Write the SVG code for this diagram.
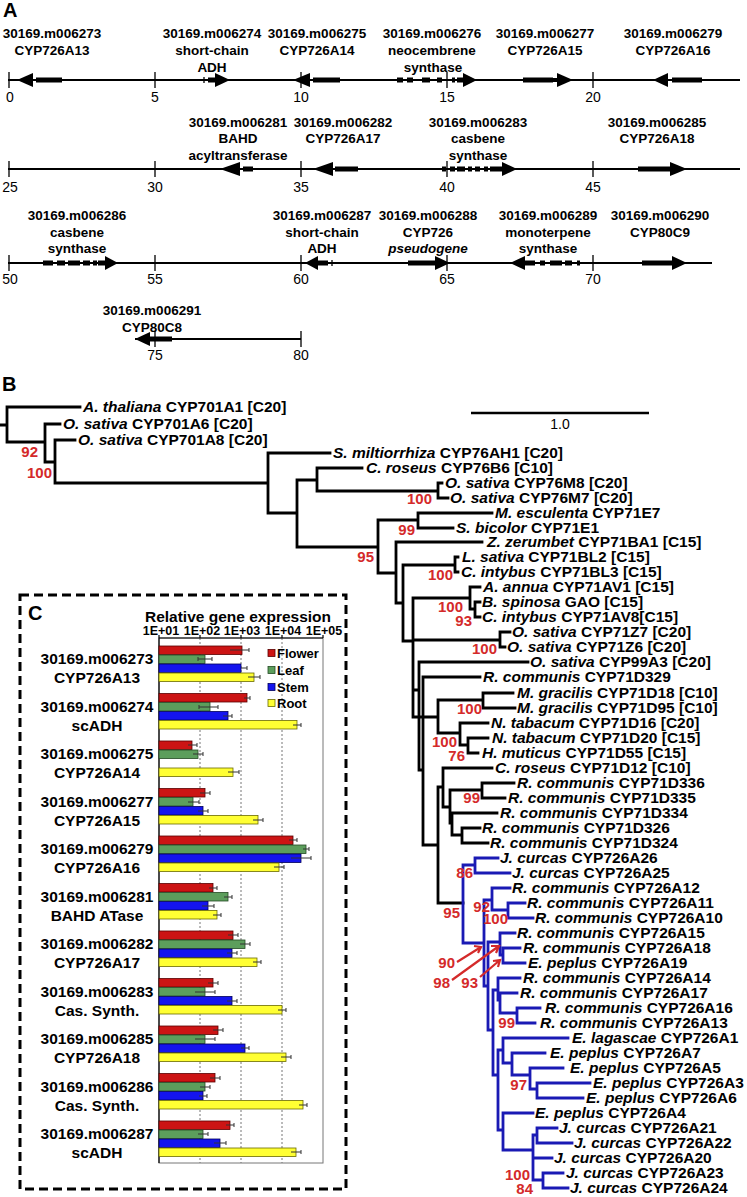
<svg xmlns="http://www.w3.org/2000/svg" width="747" height="1197" viewBox="0 0 747 1197">
<style>
text{font-family:"Liberation Sans",Arial,sans-serif;fill:#000}
.pl{font-size:20px;font-weight:bold}
.gl{font-size:13.5px;font-weight:bold;text-anchor:middle}
.tk{font-size:14px;text-anchor:middle}
.lf{font-size:15.5px;font-weight:bold}
.i{font-style:italic}
.bs{font-size:15px;font-weight:bold;fill:#d42a2a;text-anchor:end}
.cg{font-size:15.5px;font-weight:bold;text-anchor:middle}
.ax{font-size:12.5px;font-weight:bold;text-anchor:middle}
.lg{font-size:13px;font-weight:bold}
.ln{stroke:#000;stroke-width:2;fill:none}
.tc{stroke:#000;stroke-width:1.3}
.ar{fill:#000}
.tree{fill:none;stroke:#000;stroke-width:2.8;stroke-linecap:square}
.blue{fill:none;stroke:#1a1ab4;stroke-width:2.8;stroke-linecap:square}
.ra{fill:none;stroke:#d42a2a;stroke-width:2.2}
.fl{fill:#cc1414;stroke:#5a0000;stroke-width:0.8}
.le{fill:#5c9e5c;stroke:#244a24;stroke-width:0.8}
.st{fill:#1414ee;stroke:#00005a;stroke-width:0.8}
.ro{fill:#ffff33;stroke:#6a6a00;stroke-width:0.8}
.eb{stroke:#333;stroke-width:1;fill:none}
</style>

<!-- Panel A -->
<g id="panelA">
<text class="pl" x="3" y="17">A</text>
<g id="row1">
<path class="ln" d="M8 80H740"/>
<path class="tc" d="M9 72V88M155 72V88M301 72V88M447 72V88M593 72V88"/>
<text class="tk" x="10" y="102">0</text><text class="tk" x="155" y="102">5</text><text class="tk" x="301" y="102">10</text><text class="tk" x="447" y="102">15</text><text class="tk" x="593" y="102">20</text>
</g>
<g id="g273"><text class="gl" x="52" y="38">30169.m006273</text><text class="gl" x="52" y="55">CYP726A13</text>
<polygon class="ar" points="33,73 17,80 33,87"/><rect x="36" y="77.5" width="26" height="5"/></g>
<g id="g274"><text class="gl" x="212" y="38">30169.m006274</text><text class="gl" x="212" y="55">short-chain</text><text class="gl" x="212" y="72">ADH</text>
<path class="tc" d="M204 77V83"/><rect x="208" y="77.5" width="9" height="5"/><polygon class="ar" points="215,73 230,80 215,87"/></g>
<g id="g275"><text class="gl" x="317" y="38">30169.m006275</text><text class="gl" x="317" y="55">CYP726A14</text>
<polygon class="ar" points="310,73 293,80 310,87"/><rect x="313" y="77.5" width="27" height="5"/></g>
<g id="g276"><text class="gl" x="432" y="38">30169.m006276</text><text class="gl" x="432" y="55">neocembrene</text><text class="gl" x="433" y="72">synthase</text>
<rect x="397" y="77.5" width="6" height="5"/><rect x="407" y="77.5" width="6" height="5"/><rect x="422" y="77.5" width="8" height="5"/><rect x="437" y="77.5" width="5" height="5"/><rect x="452" y="77.5" width="3" height="5"/><rect x="457" y="77.5" width="7" height="5"/><polygon class="ar" points="463,73 477,80 463,87"/></g>
<g id="g277"><text class="gl" x="545" y="38">30169.m006277</text><text class="gl" x="545" y="55">CYP726A15</text>
<rect x="523" y="77.5" width="30" height="5"/><polygon class="ar" points="557,73 573,80 557,87"/><rect x="552" y="78" width="6" height="4"/></g>
<g id="g279"><text class="gl" x="673" y="38">30169.m006279</text><text class="gl" x="673" y="55">CYP726A16</text>
<polygon class="ar" points="668,73 653,80 668,87"/><rect x="672" y="77.5" width="30" height="5"/></g>

<g id="row2">
<path class="ln" d="M8 169H740"/>
<path class="tc" d="M9 161V177M155 161V177M301 161V177M447 161V177M593 161V177"/>
<text class="tk" x="10" y="192">25</text><text class="tk" x="155" y="192">30</text><text class="tk" x="301" y="192">35</text><text class="tk" x="447" y="192">40</text><text class="tk" x="593" y="192">45</text>
</g>
<g id="g281"><text class="gl" x="238" y="127">30169.m006281</text><text class="gl" x="238" y="143">BAHD</text><text class="gl" x="238" y="160">acyltransferase</text>
<polygon class="ar" points="240,162 220,169 240,176"/><rect x="243" y="166.5" width="10" height="5"/></g>
<g id="g282"><text class="gl" x="343" y="127">30169.m006282</text><text class="gl" x="343" y="143">CYP726A17</text>
<polygon class="ar" points="333,162 313,169 333,176"/><rect x="335" y="166.5" width="23" height="5"/></g>
<g id="g283"><text class="gl" x="478" y="127">30169.m006283</text><text class="gl" x="478" y="143">casbene</text><text class="gl" x="478" y="160">synthase</text>
<rect x="442" y="166.5" width="4" height="5"/><rect x="450" y="166.5" width="5" height="5"/><rect x="457" y="166.5" width="8" height="5"/><rect x="468" y="166.5" width="4" height="5"/><rect x="475" y="166.5" width="5" height="5"/><rect x="484" y="166.5" width="4" height="5"/><rect x="490" y="166.5" width="13" height="5"/><polygon class="ar" points="502,162 517,169 502,176"/></g>
<g id="g285"><text class="gl" x="657" y="127">30169.m006285</text><text class="gl" x="657" y="143">CYP726A18</text>
<rect x="638" y="166.5" width="32" height="5"/><polygon class="ar" points="670,162 687,169 670,176"/></g>

<g id="row3">
<path class="ln" d="M8 263H712"/>
<path class="tc" d="M9 255V271M155 255V271M301 255V271M447 255V271M593 255V271"/>
<text class="tk" x="10" y="284">50</text><text class="tk" x="155" y="284">55</text><text class="tk" x="301" y="284">60</text><text class="tk" x="447" y="284">65</text><text class="tk" x="593" y="284">70</text>
</g>
<g id="g286"><text class="gl" x="77" y="220">30169.m006286</text><text class="gl" x="77" y="237">casbene</text><text class="gl" x="77" y="253">synthase</text>
<rect x="43" y="260.5" width="10" height="5"/><rect x="57" y="260.5" width="8" height="5"/><rect x="68" y="260.5" width="12" height="5"/><rect x="83" y="260.5" width="7" height="5"/><rect x="93" y="260.5" width="4" height="5"/><rect x="98" y="260.5" width="8" height="5"/><polygon class="ar" points="105,256 118,263 105,270"/></g>
<g id="g287"><text class="gl" x="322" y="220">30169.m006287</text><text class="gl" x="322" y="237">short-chain</text><text class="gl" x="322" y="253">ADH</text>
<polygon class="ar" points="318,256 305,263 318,270"/><rect x="317" y="260.5" width="11" height="5"/><path class="tc" d="M332 260V266"/></g>
<g id="g288"><text class="gl" x="428" y="220">30169.m006288</text><text class="gl" x="428" y="237">CYP726</text><text class="gl i" x="428" y="253">pseudogene</text>
<rect x="408" y="260.5" width="28" height="5"/><polygon class="ar" points="435,256 450,263 435,270"/></g>
<g id="g289"><text class="gl" x="548" y="220">30169.m006289</text><text class="gl" x="548" y="237">monoterpene</text><text class="gl" x="548" y="253">synthase</text>
<polygon class="ar" points="525,256 510,263 525,270"/><rect x="524" y="260.5" width="11" height="5"/><rect x="540" y="260.5" width="5" height="5"/><rect x="550" y="260.5" width="12" height="5"/><rect x="565" y="260.5" width="7" height="5"/><rect x="577" y="260.5" width="3" height="5"/></g>
<g id="g290"><text class="gl" x="660" y="220">30169.m006290</text><text class="gl" x="660" y="237">CYP80C9</text>
<rect x="642" y="260.5" width="31" height="5"/><polygon class="ar" points="672,256 687,263 672,270"/></g>

<g id="row4">
<path class="ln" d="M135 339H301"/>
<path class="tc" d="M155 331V347M301 331V347"/>
<text class="tk" x="155" y="360">75</text><text class="tk" x="301" y="360">80</text>
</g>
<g id="g291"><text class="gl" x="152" y="315">30169.m006291</text><text class="gl" x="152" y="332">CYP80C8</text>
<polygon class="ar" points="150,332 135,339 150,346"/><rect x="149" y="336.5" width="23" height="5"/></g>
</g>

<!-- Panel B -->
<text class="pl" x="2" y="391">B</text>
<g id="scalebar"><path d="M471 413H649" stroke="#000" stroke-width="2.5"/><text x="560" y="429" style="font-size:14px;text-anchor:middle">1.0</text></g>

<g id="connectors">
<path class="tree" d="M0 425H7M7 407V442M7 407H80M7 442H45
M45 424V462M45 424H60M45 462H55
M55 440V483M55 440H75M55 483H268
M268 453V513M268 453H330M268 513H297
M297 480V547M297 480H317M297 547H378
M317 468V491M317 468H362M317 491H438
M438 483V498M438 483H442M438 498H448
M378 520V573M378 520H418M378 573H396
M418 513V528M418 513H492M418 528H453
M396 542V603M396 542H482M396 603H403
M403 565V641M403 565H455M403 641H413
M455 557V572M455 557H458M455 572H458
M413 598V717M413 598H470M413 640H500M413 717H438M413 690H419
M470 587V609M470 587H480M470 609H475
M475 602V617M475 602H480M475 617H480
M500 632V647M500 632H510M500 647H505
M419 662V770M419 662H528M419 770H423
M423 677V845M423 677H480M423 845H438
M438 700V733M438 700H483M438 733H460
M483 693V708M483 693H513M483 708H515
M460 723V745M460 723H488M460 745H468
M468 738V753M468 738H488M468 753H478
M438 787V903M438 787H443M438 903H463
M443 768V807M443 768H492M443 807H450
M450 790V823M450 790H482M450 823H452
M482 783V798M482 783H514M482 798H505
M452 813V835M452 813H497M452 835H462
M462 828V843M462 828H480M462 843H488"/>
<path class="blue" d="M463 865V943M463 865H475M463 943H484
M475 858V873M475 858H498M475 873H510
M484 900V986M484 900H492M484 986H488
M492 888V910M492 888H510M492 910H508
M508 903V918M508 903H525M508 918H533
M488 942V1030M488 942H500M488 1030H493
M500 933V955M500 933H515M500 955H503
M503 948V963M503 948H520M503 963H525
M493 990V1075M493 990H498M493 1075H498
M498 978V1000M498 978H520M498 1000H500
M500 993V1013M500 993H517M500 1013H517
M517 1008V1023M517 1008H540M517 1023H535
M498 1050V1130M498 1050H503M498 1130H503
M503 1038V1063M503 1038H568M503 1063H512
M512 1053V1075M512 1053H545M512 1075H530
M530 1068V1089M530 1068H563M530 1089H537
M537 1083V1098M537 1083H590M537 1098H583
M503 1113V1150M503 1113H533M503 1150H533
M533 1135V1180M533 1135H537M533 1158H552M533 1180H543
M537 1128V1143M537 1128H557M537 1143H572
M543 1173V1188M543 1173H563M543 1188H568"/>
<path class="ra" d="M457 962L481 947M474 946L481 947L478 953M452 980L499 946M491 946L499 946L496 953M480 977L500 960M493 961L500 960L498 967"/>
</g>

<g id="leaves">
<text class="lf" x="83" y="412"><tspan class="i">A. thaliana</tspan> CYP701A1 [C20]</text>
<text class="lf" x="63" y="429"><tspan class="i">O. sativa</tspan> CYP701A6 [C20]</text>
<text class="lf" x="78" y="445"><tspan class="i">O. sativa</tspan> CYP701A8 [C20]</text>
<text class="lf" x="333" y="458"><tspan class="i">S. miltiorrhiza</tspan> CYP76AH1 [C20]</text>
<text class="lf" x="366" y="473"><tspan class="i">C. roseus</tspan> CYP76B6 [C10]</text>
<text class="lf" x="445" y="488"><tspan class="i">O. sativa</tspan> CYP76M8 [C20]</text>
<text class="lf" x="450" y="503"><tspan class="i">O. sativa</tspan> CYP76M7 [C20]</text>
<text class="lf" x="495" y="518"><tspan class="i">M. esculenta</tspan> CYP71E7</text>
<text class="lf" x="456" y="533"><tspan class="i">S. bicolor</tspan> CYP71E1</text>
<text class="lf" x="487" y="547"><tspan class="i">Z. zerumbet</tspan> CYP71BA1 [C15]</text>
<text class="lf" x="462" y="562"><tspan class="i">L. sativa</tspan> CYP71BL2 [C15]</text>
<text class="lf" x="461" y="577"><tspan class="i">C. intybus</tspan> CYP71BL3 [C15]</text>
<text class="lf" x="483" y="592"><tspan class="i">A. annua</tspan> CYP71AV1 [C15]</text>
<text class="lf" x="482" y="607"><tspan class="i">B. spinosa</tspan> GAO [C15]</text>
<text class="lf" x="482" y="622"><tspan class="i">C. intybus</tspan> CYP71AV8[C15]</text>
<text class="lf" x="512" y="637"><tspan class="i">O. sativa</tspan> CYP71Z7 [C20]</text>
<text class="lf" x="507" y="652"><tspan class="i">O. sativa</tspan> CYP71Z6 [C20]</text>
<text class="lf" x="530" y="667"><tspan class="i">O. sativa</tspan> CYP99A3 [C20]</text>
<text class="lf" x="483" y="682"><tspan class="i">R. communis</tspan> CYP71D329</text>
<text class="lf" x="517" y="698"><tspan class="i">M. gracilis</tspan> CYP71D18 [C10]</text>
<text class="lf" x="517" y="713"><tspan class="i">M. gracilis</tspan> CYP71D95 [C10]</text>
<text class="lf" x="491" y="728"><tspan class="i">N. tabacum</tspan> CYP71D16 [C20]</text>
<text class="lf" x="492" y="743"><tspan class="i">N. tabacum</tspan> CYP71D20 [C15]</text>
<text class="lf" x="482" y="758"><tspan class="i">H. muticus</tspan> CYP71D55 [C15]</text>
<text class="lf" x="495" y="773"><tspan class="i">C. roseus</tspan> CYP71D12 [C10]</text>
<text class="lf" x="517" y="788"><tspan class="i">R. communis</tspan> CYP71D336</text>
<text class="lf" x="508" y="803"><tspan class="i">R. communis</tspan> CYP71D335</text>
<text class="lf" x="500" y="818"><tspan class="i">R. communis</tspan> CYP71D334</text>
<text class="lf" x="482" y="833"><tspan class="i">R. communis</tspan> CYP71D326</text>
<text class="lf" x="490" y="848"><tspan class="i">R. communis</tspan> CYP71D324</text>
<text class="lf" x="500" y="863"><tspan class="i">J. curcas</tspan> CYP726A26</text>
<text class="lf" x="512" y="878"><tspan class="i">J. curcas</tspan> CYP726A25</text>
<text class="lf" x="512" y="893"><tspan class="i">R. communis</tspan> CYP726A12</text>
<text class="lf" x="527" y="908"><tspan class="i">R. communis</tspan> CYP726A11</text>
<text class="lf" x="535" y="923"><tspan class="i">R. communis</tspan> CYP726A10</text>
<text class="lf" x="517" y="938"><tspan class="i">R. communis</tspan> CYP726A15</text>
<text class="lf" x="523" y="953"><tspan class="i">R. communis</tspan> CYP726A18</text>
<text class="lf" x="528" y="968"><tspan class="i">E. peplus</tspan> CYP726A19</text>
<text class="lf" x="523" y="983"><tspan class="i">R. communis</tspan> CYP726A14</text>
<text class="lf" x="520" y="998"><tspan class="i">R. communis</tspan> CYP726A17</text>
<text class="lf" x="545" y="1013"><tspan class="i">R. communis</tspan> CYP726A16</text>
<text class="lf" x="540" y="1028"><tspan class="i">R. communis</tspan> CYP726A13</text>
<text class="lf" x="572" y="1043"><tspan class="i">E. lagascae</tspan> CYP726A1</text>
<text class="lf" x="550" y="1058"><tspan class="i">E. peplus</tspan> CYP726A7</text>
<text class="lf" x="570" y="1073"><tspan class="i">E. peplus</tspan> CYP726A5</text>
<text class="lf" x="593" y="1088"><tspan class="i">E. peplus</tspan> CYP726A3</text>
<text class="lf" x="586" y="1103"><tspan class="i">E. peplus</tspan> CYP726A6</text>
<text class="lf" x="535" y="1118"><tspan class="i">E. peplus</tspan> CYP726A4</text>
<text class="lf" x="559" y="1133"><tspan class="i">J. curcas</tspan> CYP726A21</text>
<text class="lf" x="574" y="1148"><tspan class="i">J. curcas</tspan> CYP726A22</text>
<text class="lf" x="554" y="1163"><tspan class="i">J. curcas</tspan> CYP726A20</text>
<text class="lf" x="566" y="1178"><tspan class="i">J. curcas</tspan> CYP726A23</text>
<text class="lf" x="570" y="1193"><tspan class="i">J. curcas</tspan> CYP726A24</text>
</g>

<g id="bootstrap">
<text class="bs" x="38" y="457">92</text><text class="bs" x="52" y="478">100</text>
<text class="bs" x="432" y="504">100</text><text class="bs" x="415" y="535">99</text><text class="bs" x="374" y="562">95</text>
<text class="bs" x="453" y="580">100</text><text class="bs" x="463" y="612">100</text><text class="bs" x="472" y="626">93</text>
<text class="bs" x="497" y="654">100</text><text class="bs" x="482" y="714">100</text><text class="bs" x="457" y="747">100</text>
<text class="bs" x="465" y="761">76</text><text class="bs" x="480" y="803">99</text><text class="bs" x="473" y="878">86</text>
<text class="bs" x="460" y="918">95</text><text class="bs" x="490" y="912">92</text><text class="bs" x="508" y="924">100</text>
<text class="bs" x="455" y="968">90</text><text class="bs" x="450" y="988">98</text><text class="bs" x="478" y="988">93</text>
<text class="bs" x="515" y="1028">99</text><text class="bs" x="527" y="1090">97</text>
<text class="bs" x="530" y="1180">100</text><text class="bs" x="533" y="1194">84</text>
</g>

<!-- Panel C -->
<g id="panelC">
<rect x="20" y="595" width="326" height="594" fill="#fff" stroke="#000" stroke-width="3" stroke-dasharray="9 5"/>
<text class="pl" x="28" y="620">C</text>
<text x="238" y="622" style="font-size:15.5px;font-weight:bold;text-anchor:middle">Relative gene expression</text>
<text class="ax" x="161" y="635">1E+01</text><text class="ax" x="202" y="635">1E+02</text><text class="ax" x="242" y="635">1E+03</text><text class="ax" x="283" y="635">1E+04</text><text class="ax" x="324" y="635">1E+05</text>
<rect x="159" y="638" width="164" height="525" fill="#fff" stroke="#777" stroke-width="1"/>
<path d="M200 638V1163M241 638V1163M282 638V1163" stroke="#777" stroke-width="1" stroke-dasharray="2 2"/>
<path d="M159 638H323M159 638V1163M159 638V635M200 638V635M241 638V635M282 638V635M323 638V635" stroke="#000" stroke-width="1.2" fill="none"/>
<g id="legend">
<rect class="fl" x="268" y="649.5" width="7" height="7"/><text class="lg" x="277" y="658">Flower</text>
<rect class="le" x="268" y="666.5" width="7" height="7"/><text class="lg" x="277" y="675">Leaf</text>
<rect class="st" x="268" y="683.5" width="7" height="7"/><text class="lg" x="277" y="692">Stem</text>
<rect class="ro" x="268" y="699.5" width="7" height="7"/><text class="lg" x="277" y="708">Root</text>
</g>
<g id="clabels">
<text class="cg" x="97" y="664">30169.m006273</text><text class="cg" x="97" y="683">CYP726A13</text>
<text class="cg" x="97" y="712">30169.m006274</text><text class="cg" x="97" y="731">scADH</text>
<text class="cg" x="97" y="759">30169.m006275</text><text class="cg" x="97" y="778">CYP726A14</text>
<text class="cg" x="97" y="807">30169.m006277</text><text class="cg" x="97" y="826">CYP726A15</text>
<text class="cg" x="97" y="854">30169.m006279</text><text class="cg" x="97" y="873">CYP726A16</text>
<text class="cg" x="97" y="902">30169.m006281</text><text class="cg" x="97" y="921">BAHD ATase</text>
<text class="cg" x="97" y="949">30169.m006282</text><text class="cg" x="97" y="968">CYP726A17</text>
<text class="cg" x="97" y="997">30169.m006283</text><text class="cg" x="97" y="1016">Cas. Synth.</text>
<text class="cg" x="97" y="1044">30169.m006285</text><text class="cg" x="97" y="1063">CYP726A18</text>
<text class="cg" x="97" y="1092">30169.m006286</text><text class="cg" x="97" y="1111">Cas. Synth.</text>
<text class="cg" x="97" y="1139">30169.m006287</text><text class="cg" x="97" y="1158">scADH</text>
</g>
<g id="bars">
<rect class="fl" x="159" y="646" width="83" height="8.5"/><rect class="le" x="159" y="655" width="46" height="8.5"/><rect class="st" x="159" y="664" width="82" height="8.5"/><rect class="ro" x="159" y="673" width="95" height="8.5"/>
<rect class="fl" x="159" y="693.5" width="88" height="8.5"/><rect class="le" x="159" y="702.5" width="51" height="8.5"/><rect class="st" x="159" y="711.5" width="69" height="8.5"/><rect class="ro" x="159" y="720.5" width="138" height="8.5"/>
<rect class="fl" x="159" y="741" width="33" height="8.5"/><rect class="le" x="159" y="750" width="39" height="8.5"/><rect class="ro" x="159" y="768" width="74" height="8.5"/>
<rect class="fl" x="159" y="788.5" width="46" height="8.5"/><rect class="le" x="159" y="797.5" width="34" height="8.5"/><rect class="st" x="159" y="806.5" width="44" height="8.5"/><rect class="ro" x="159" y="815.5" width="99" height="8.5"/>
<rect class="fl" x="159" y="836" width="134" height="8.5"/><rect class="le" x="159" y="845" width="147" height="8.5"/><rect class="st" x="159" y="854" width="142" height="8.5"/><rect class="ro" x="159" y="863" width="120" height="8.5"/>
<rect class="fl" x="159" y="883.5" width="54" height="8.5"/><rect class="le" x="159" y="892.5" width="69" height="8.5"/><rect class="st" x="159" y="901.5" width="49" height="8.5"/><rect class="ro" x="159" y="910.5" width="58" height="8.5"/>
<rect class="fl" x="159" y="931" width="74" height="8.5"/><rect class="le" x="159" y="940" width="86" height="8.5"/><rect class="st" x="159" y="949" width="73" height="8.5"/><rect class="ro" x="159" y="958" width="98" height="8.5"/>
<rect class="fl" x="159" y="978.5" width="54" height="8.5"/><rect class="le" x="159" y="987.5" width="46" height="8.5"/><rect class="st" x="159" y="996.5" width="73" height="8.5"/><rect class="ro" x="159" y="1005.5" width="123" height="8.5"/>
<rect class="fl" x="159" y="1026" width="59" height="8.5"/><rect class="le" x="159" y="1035" width="46" height="8.5"/><rect class="st" x="159" y="1044" width="86" height="8.5"/><rect class="ro" x="159" y="1053" width="127" height="8.5"/>
<rect class="fl" x="159" y="1073.5" width="56" height="8.5"/><rect class="le" x="159" y="1082.5" width="46" height="8.5"/><rect class="st" x="159" y="1091.5" width="44" height="8.5"/><rect class="ro" x="159" y="1100.5" width="144" height="8.5"/>
<rect class="fl" x="159" y="1121" width="71" height="8.5"/><rect class="le" x="159" y="1130" width="44" height="8.5"/><rect class="st" x="159" y="1139" width="61" height="8.5"/><rect class="ro" x="159" y="1148" width="137" height="8.5"/>
</g>
<path class="eb" d="M230 650H249M249 648V652M198 659H212M198 657V661M212 657V661M241 668H247M247 666V670M248 677H260M260 675V679
M244 698H250M250 696V700M199 707H218M199 705V709M218 705V709M223 716H232M232 714V718M293 725H301M301 723V727
M188 745H197M197 743V747M193 754H203M203 752V756M228 772H239M239 770V774
M200 793H210M210 791V795M188 802H199M199 800V804M198 811H208M208 809V813M253 820H263M263 818V822
M289 840H297M297 838V842M303 849H309M309 847V851M291 858H311M311 856V860M274 867H284M284 865V869
M209 888H217M217 886V890M224 897H232M232 895V899M202 906H214M214 904V908M213 915H221M221 913V917
M228 935H238M238 933V937M240 944H250M250 942V946M227 953H237M237 951V955M253 962H261M261 960V964
M208 983H218M218 981V985M195 992H215M215 990V994M227 1001H237M237 999V1003M278 1010H286M286 1008V1012
M213 1030H223M223 1028V1032M195 1039H215M215 1037V1041M241 1048H249M249 1046V1050M281 1057H291M291 1055V1059
M210 1078H220M220 1076V1080M200 1087H210M210 1085V1089M199 1096H207M207 1094V1098M299 1105H307M307 1103V1107
M226 1125H234M234 1123V1127M198 1134H208M208 1132V1136M214 1143H226M226 1141V1145M291 1152H301M301 1150V1154"/>
</g>
</svg>
